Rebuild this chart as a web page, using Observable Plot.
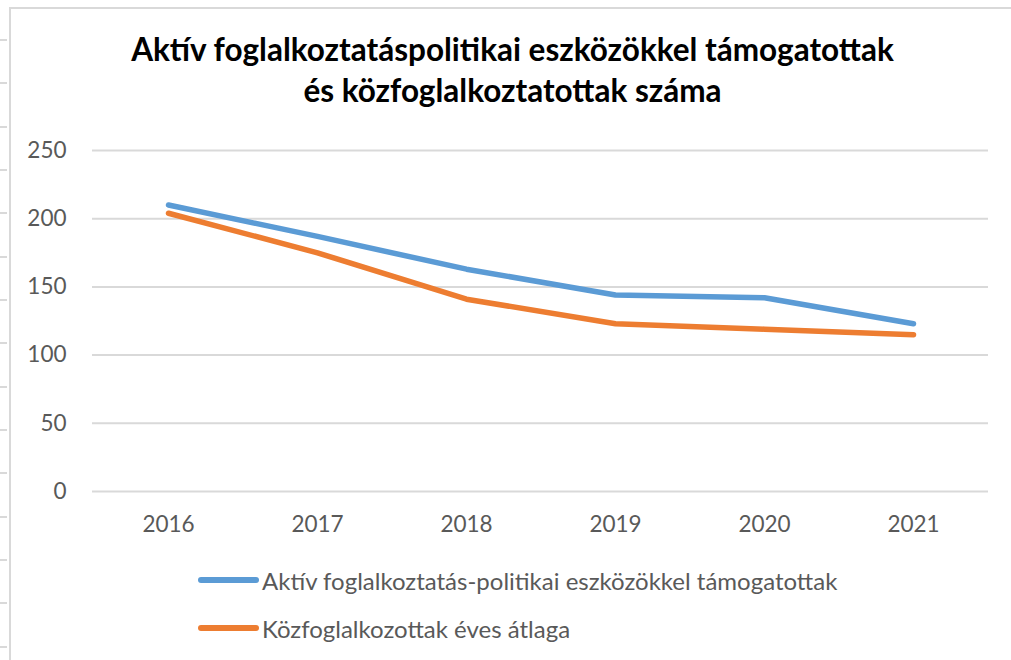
<!DOCTYPE html>
<html>
<head>
<meta charset="utf-8">
<script src="https://cdn.jsdelivr.net/npm/d3@7"></script>
<script src="https://cdn.jsdelivr.net/npm/@observablehq/plot@0.6"></script>
<style>
  html, body { margin: 0; padding: 0; background: #fff; }
  #wrap { position: relative; width: 1011px; height: 660px; overflow: hidden; font-family: Lato, "Open Sans", sans-serif; }
  #frameTop { position: absolute; left: 9px; top: 7px; width: 1002px; height: 2px; background: #d9d9d9; }
  #frameLeft { position: absolute; left: 9px; top: 7px; width: 2px; height: 660px; background: #d9d9d9; }
  .edgeTick { position: absolute; left: 0; width: 7px; height: 2px; background: #d9d9d9; }
  #title { position: absolute; left: 0; top: 29px; width: 1025px; text-align: center; font-weight: 700; font-size: 31.5px; line-height: 41px; color: #000; }
  #chart { position: absolute; left: 0; top: 130px; }
  #legend { position: absolute; left: 198px; top: 562px; color: #595959; font-size: 24px; }
  .item { display: flex; align-items: center; height: 36px; margin-bottom: 12px; }
  .swatch { width: 61px; height: 6px; border-radius: 3px; margin-right: 3px; }
</style>
</head>
<body>
<div id="wrap">
  <div id="frameTop"></div>
  <div id="frameLeft"></div>
  <div id="title">Aktív foglalkoztatáspolitikai eszközökkel támogatottak<br>és közfoglalkoztatottak száma</div>
  <div id="chart"></div>
  <div id="legend"></div>
</div>
<script>
const years = ["2016", "2017", "2018", "2019", "2020", "2021"];
const seriesNames = [
  "Aktív foglalkoztatás-politikai eszközökkel támogatottak",
  "Közfoglalkozottak éves átlaga"
];
const aktivValues = [210, 187, 163, 144, 142, 123];
const kozValues = [204, 175, 141, 123, 119, 115];
const seriesColors = ["#5B9BD5", "#ED7D31"];
const yTicks = [0, 50, 100, 150, 200, 250];

const wrap = document.getElementById("wrap");
for (let i = 0; i < 15; i++) {
  const d = document.createElement("div");
  d.className = "edgeTick";
  d.style.top = (39 + i * 43.33) + "px";
  wrap.appendChild(d);
}

const data = [];
years.forEach((y, i) => {
  data.push({year: y, value: aktivValues[i], series: seriesNames[0]});
  data.push({year: y, value: kozValues[i], series: seriesNames[1]});
});

const chart = Plot.plot({
  width: 1011,
  height: 420,
  marginTop: 20,
  marginBottom: 59,
  marginLeft: 92,
  marginRight: 23,
  style: {fontFamily: "Lato, 'Open Sans', sans-serif", fontSize: "22.5px", color: "#595959", background: "transparent"},
  x: {type: "point", domain: years, padding: 0.5, label: null},
  y: {domain: [0, 250], ticks: yTicks, label: null},
  color: {domain: seriesNames, range: seriesColors},
  marks: [
    Plot.gridY(yTicks, {stroke: "#d9d9d9", strokeOpacity: 1, strokeWidth: 2}),
    Plot.axisY(yTicks, {tickSize: 0, tickPadding: 26, fontSize: 22.5, fill: "#595959"}),
    Plot.axisX({tickSize: 0, tickPadding: 25, fontSize: 22.5, fill: "#595959"}),
    Plot.line(data, {x: "year", y: "value", z: "series", stroke: "series", strokeWidth: 5.5, strokeLinecap: "round", strokeLinejoin: "round"})
  ]
});
document.getElementById("chart").appendChild(chart);

const legend = document.getElementById("legend");
seriesNames.forEach((n, i) => {
  const item = document.createElement("div");
  item.className = "item";
  item.innerHTML = `<div class="swatch" style="background:${seriesColors[i]}"></div><span>${n}</span>`;
  legend.appendChild(item);
});
</script>
</body>
</html>
